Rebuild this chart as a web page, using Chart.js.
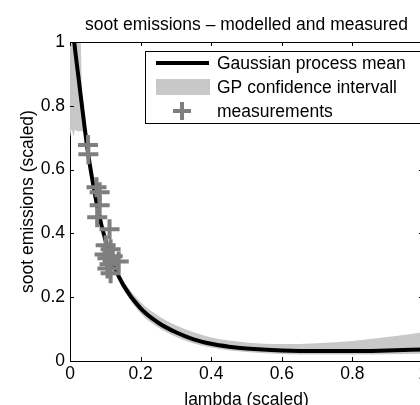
<!DOCTYPE html>
<html><head><meta charset="utf-8">
<script src="https://cdn.jsdelivr.net/npm/chart.js@4/dist/chart.umd.min.js"></script>
<style>html,body{margin:0;padding:0;overflow:hidden;background:#fff;width:420px;height:405px}canvas{display:block}</style>
</head><body>
<canvas id="c" width="440" height="420"></canvas>
<script>
const chartTitle = 'soot emissions \u2013 modelled and measured';
const xAxisTitle = 'lambda (scaled)';
const yAxisTitle = 'soot emissions (scaled)';
const legendLabels = ['Gaussian process mean', 'GP confidence intervall', 'measurements'];
const xTickValues = [0, 0.2, 0.4, 0.6, 0.8, 1];
const xTickLabels = ['0', '0.2', '0.4', '0.6', '0.8', '1'];
const yTickValues = [0, 0.2, 0.4, 0.6, 0.8, 1];
const yTickLabels = ['0', '0.2', '0.4', '0.6', '0.8', '1'];

const lambdaGrid = [0, 0.005, 0.01, 0.015, 0.02, 0.025, 0.03, 0.035, 0.04, 0.05, 0.06, 0.08, 0.1, 0.12, 0.15, 0.2, 0.25, 0.3, 0.35, 0.4, 0.45, 0.5, 0.6, 0.7, 0.8, 0.9, 1.0];
const gpMean  = [1.12, 1.07, 1.02, 0.97, 0.925, 0.88, 0.835, 0.79, 0.745, 0.66, 0.59, 0.47, 0.38, 0.31, 0.24, 0.165, 0.12, 0.09, 0.068, 0.054, 0.045, 0.039, 0.033, 0.031, 0.031, 0.033, 0.036];
const gpUpper = [1.6, 1.5, 1.4, 1.3, 1.2, 1.12, 1.02, 0.8, 0.755, 0.67, 0.6, 0.48, 0.39, 0.322, 0.255, 0.185, 0.142, 0.112, 0.09, 0.074, 0.064, 0.058, 0.053, 0.056, 0.063, 0.075, 0.09];
const gpLower = [0.70, 0.725, 0.705, 0.725, 0.72, 0.72, 0.72, 0.72, 0.72, 0.645, 0.578, 0.46, 0.372, 0.302, 0.228, 0.15, 0.105, 0.076, 0.055, 0.042, 0.034, 0.028, 0.022, 0.02, 0.02, 0.021, 0.023];

const measLambda = [0.051, 0.052, 0.075, 0.084, 0.084, 0.077, 0.112, 0.101, 0.115, 0.098, 0.106, 0.138, 0.112, 0.106, 0.115, 0.121];
const measSoot   = [0.677, 0.648, 0.545, 0.529, 0.488, 0.451, 0.413, 0.363, 0.350, 0.334, 0.322, 0.312, 0.303, 0.290, 0.275, 0.328];

const FONT = 'Liberation Sans, Arial, Helvetica, sans-serif';
const FS = 17.5;
const BAND = '#c8c8c8';
const MARK = '#7f7f7f';

function pts(xs, ys) { return xs.map((x, i) => ({x: x, y: ys[i]})); }

function drawCross(ctx, x, y, r) {
  ctx.beginPath();
  ctx.moveTo(x - r, y); ctx.lineTo(x + r, y);
  ctx.moveTo(x, y - r); ctx.lineTo(x, y + r);
  ctx.stroke();
}

const framePlugin = {
  id: 'frame',
  afterDraw(chart) {
    const ctx = chart.ctx, a = chart.chartArea, xs = chart.scales.x, ys = chart.scales.y;
    ctx.save();
    ctx.strokeStyle = '#000'; ctx.lineWidth = 1;
    ctx.beginPath();
    ctx.moveTo(a.left, a.top + 0.5); ctx.lineTo(a.right, a.top + 0.5);
    ctx.moveTo(a.right - 0.5, a.top); ctx.lineTo(a.right - 0.5, a.bottom);
    ctx.stroke();
    const tl = 4;
    ctx.beginPath();
    xTickValues.forEach(v => {
      const px = Math.round(xs.getPixelForValue(v)) + 0.5;
      ctx.moveTo(px, a.bottom); ctx.lineTo(px, a.bottom - tl);
      ctx.moveTo(px, a.top); ctx.lineTo(px, a.top + tl);
    });
    yTickValues.forEach(v => {
      const py = Math.round(ys.getPixelForValue(v)) + 0.5;
      ctx.moveTo(a.left, py); ctx.lineTo(a.left + tl, py);
      ctx.moveTo(a.right, py); ctx.lineTo(a.right - tl, py);
    });
    ctx.stroke();

    // title
    ctx.fillStyle = '#000';
    ctx.font = FS + 'px ' + FONT;
    ctx.textAlign = 'center'; ctx.textBaseline = 'alphabetic';
    ctx.fillText(chartTitle, (a.left + a.right) / 2, 30);

    // legend
    const lx = 145.5, ly = 51.5, lw = 300, lh = 72;
    ctx.fillStyle = '#fff';
    ctx.fillRect(lx, ly, lw, lh);
    ctx.strokeStyle = '#000'; ctx.lineWidth = 1;
    ctx.strokeRect(lx, ly, lw, lh);
    ctx.strokeStyle = '#000'; ctx.lineWidth = 4;
    ctx.beginPath(); ctx.moveTo(156, 63); ctx.lineTo(209, 63); ctx.stroke();
    ctx.fillStyle = BAND;
    ctx.fillRect(156, 79, 54, 16);
    ctx.strokeStyle = MARK; ctx.lineWidth = 4;
    drawCross(ctx, 182, 111, 9);
    ctx.fillStyle = '#000';
    ctx.textAlign = 'left'; ctx.textBaseline = 'alphabetic';
    ctx.fillText(legendLabels[0], 217, 69);
    ctx.fillText(legendLabels[1], 217, 93);
    ctx.fillText(legendLabels[2], 217, 117);
    ctx.restore();
  }
};

Chart.defaults.font.family = FONT;
Chart.defaults.font.size = FS;
Chart.defaults.color = '#000';

new Chart(document.getElementById('c'), {
  type: 'line',
  data: {
    datasets: [
      { label: legendLabels[2], data: pts(measLambda, measSoot), showLine: false,
        pointStyle: 'cross', pointRadius: 10, pointBorderWidth: 4, pointBorderColor: MARK,
        pointBackgroundColor: MARK, borderColor: MARK, order: 0 },
      { label: legendLabels[0], data: pts(lambdaGrid, gpMean), borderColor: '#000', borderWidth: 4,
        pointRadius: 0, cubicInterpolationMode: 'monotone', fill: false, clip: 0, order: 1 },
      { label: 'upper', data: pts(lambdaGrid, gpUpper), borderWidth: 0, borderColor: BAND,
        backgroundColor: BAND, pointRadius: 0, cubicInterpolationMode: 'monotone', fill: '+1', clip: 0, order: 2 },
      { label: 'lower', data: pts(lambdaGrid, gpLower), borderWidth: 0, borderColor: BAND,
        backgroundColor: BAND, pointRadius: 0, cubicInterpolationMode: 'monotone', fill: false, clip: 0, order: 3 }
    ]
  },
  options: {
    responsive: false, animation: false, devicePixelRatio: 1,
    layout: { padding: { top: 42, right: 17, left: 0, bottom: 0 } },
    plugins: { legend: { display: false }, tooltip: { enabled: false }, title: { display: false } },
    scales: {
      x: {
        type: 'linear', min: 0, max: 1,
        afterBuildTicks: s => { s.ticks = xTickValues.map(v => ({value: v})); },
        afterFit: s => { s.height = 59; },
        grid: { display: false, drawTicks: false },
        border: { display: true, color: '#000', width: 1 },
        ticks: { padding: 3, maxRotation: 0, autoSkip: false, callback: (v, i) => xTickLabels[i] },
        title: { display: true, text: xAxisTitle, padding: { top: 0, bottom: 9.5 } }
      },
      y: {
        type: 'linear', min: 0, max: 1,
        afterBuildTicks: s => { s.ticks = yTickValues.map(v => ({value: v})); },
        afterFit: s => { s.width = 70; },
        grid: { display: false, drawTicks: false },
        border: { display: true, color: '#000', width: 1 },
        ticks: { padding: 5, autoSkip: false, callback: (v, i) => yTickLabels[i] },
        title: { display: true, text: yAxisTitle, padding: { top: 17.5, bottom: 0 } }
      }
    }
  },
  plugins: [framePlugin]
});
</script>
</body></html>
